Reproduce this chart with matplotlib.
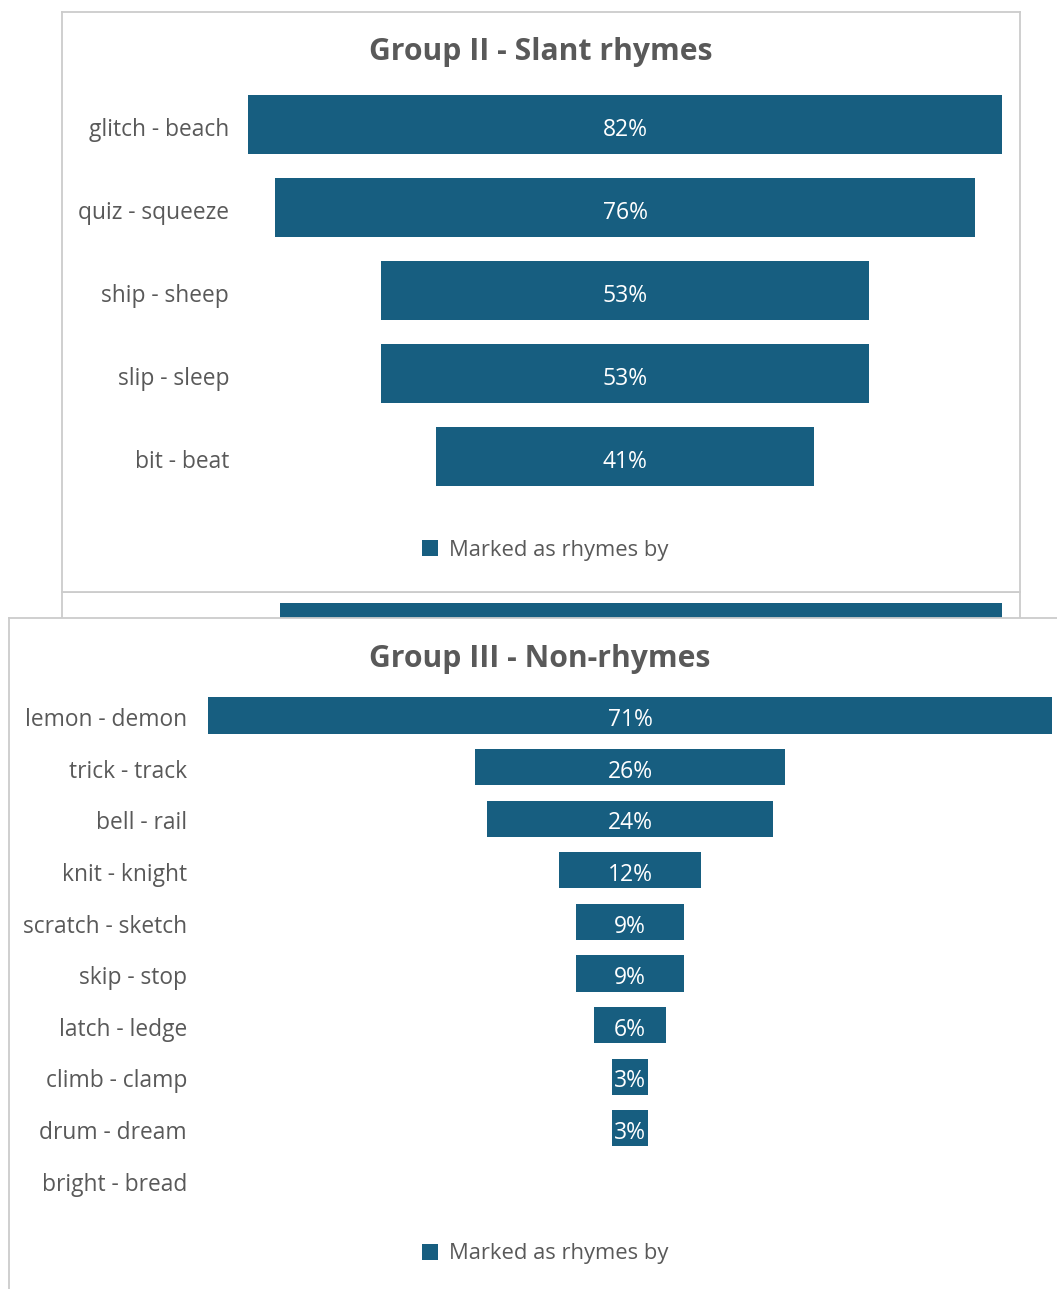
import matplotlib
matplotlib.use("Agg")
import matplotlib.pyplot as plt

# ---- data ----
slant_pairs = ["glitch - beach", "quiz - squeeze", "ship - sheep", "slip - sleep", "bit - beat"]
slant_pct = [82, 76, 53, 53, 41]

non_pairs = ["lemon - demon", "trick - track", "bell - rail", "knit - knight", "scratch - sketch",
             "skip - stop", "latch - ledge", "climb - clamp", "drum - dream", "bright - bread"]
non_pct = [71, 26, 24, 12, 9, 9, 6, 3, 3, 0]

back_pct = [78.5]

series_name = "Marked as rhymes by"
title_slant = "Group II - Slant rhymes"
title_non = "Group III - Non-rhymes"

# ---- style ----
BAR = "#175e80"
TXT = "#595959"
EDGE = "#cccccc"
FONT = ["Open Sans", "DejaVu Sans"]
plt.rcParams["font.family"] = FONT
LABEL_FS = 16.4
VALUE_FS = 16.5
TITLE_FS = 21.7
LEGEND_FS = 15.8

W, H = 1057, 1289
fig = plt.figure(figsize=(W / 100, H / 100), dpi=100)


def rect(x0, y0, x1, y1):
    return [x0 / W, 1 - y1 / H, (x1 - x0) / W, (y1 - y0) / H]


def panel(box, zorder, center_px, px_per_pct, row0_px, pitch_px):
    x0, y0, x1, y1 = box
    ax = fig.add_axes(rect(x0, y0, x1, y1), zorder=zorder)
    ax.set_facecolor("white")
    for s in ax.spines.values():
        s.set_color(EDGE)
        s.set_linewidth(1.3)
    ax.set_xticks([])
    ax.set_yticks([])
    ax.set_xlim((x0 - center_px) / px_per_pct, (x1 - center_px) / px_per_pct)
    ax.set_ylim((y1 - row0_px) / pitch_px, (y0 - row0_px) / pitch_px)
    return ax


def to_x(ax_center, scale, px):
    return (px - ax_center) / scale


def add_legend(ax, box, cx, cy):
    x0, y0, x1, y1 = box
    ax.legend(loc="center", bbox_to_anchor=((cx - x0) / (x1 - x0), 1 - (cy - y0) / (y1 - y0)),
              frameon=False, fontsize=LEGEND_FS, labelcolor=TXT, handlelength=0.72,
              handleheight=0.72, handletextpad=0.5)


# ---- partially covered panel behind ----
axb = panel((62, 592, 1020, 1400), 0, 641, 9.2, 633, 83)
axb.barh([0], back_pct, left=[-v / 2 for v in back_pct], height=0.72, color=BAR)

# ---- Group II panel ----
box1 = (62, 12, 1020, 592)
c1, s1 = 625, 9.2
ax1 = panel(box1, 1, c1, s1, 124.5, 83)
y1 = list(range(len(slant_pairs)))
ax1.barh(y1, slant_pct, left=[-v / 2 for v in slant_pct], height=0.72,
         color=BAR, label=series_name)
for i, (lab, v) in enumerate(zip(slant_pairs, slant_pct)):
    ax1.text(to_x(c1, s1, 229), i + 0.065, lab, ha="right", va="center",
             fontsize=LABEL_FS, color=TXT)
    ax1.text(0, i + 0.065, f"{v}%", ha="center", va="center", fontsize=VALUE_FS,
             color="white")
ax1.text(0.5, 1 - (52 - 12) / 580, title_slant, transform=ax1.transAxes, ha="center",
         va="center", fontsize=TITLE_FS, fontweight="bold", color=TXT)
add_legend(ax1, box1, 545, 550)

# ---- Group III panel ----
box2 = (9, 618, 1071, 1400)
c2, s2 = 630, 11.9
ax2 = panel(box2, 2, c2, s2, 715.5, 51.6)
y2 = list(range(len(non_pairs)))
ax2.barh(y2, non_pct, left=[-v / 2 for v in non_pct], height=0.70,
         color=BAR, label=series_name)
for i, (lab, v) in enumerate(zip(non_pairs, non_pct)):
    ax2.text(to_x(c2, s2, 187), i + 0.09, lab, ha="right", va="center",
             fontsize=LABEL_FS, color=TXT)
    if v > 0:
        ax2.text(0, i + 0.09, f"{v}%", ha="center", va="center", fontsize=VALUE_FS,
                 color="white")
ax2.text(0.5, 1 - (659 - 618) / 782, title_non, transform=ax2.transAxes, ha="center",
         va="center", fontsize=TITLE_FS, fontweight="bold", color=TXT)
add_legend(ax2, box2, 545, 1254)

fig.savefig("out.png", dpi=100, facecolor="white")
